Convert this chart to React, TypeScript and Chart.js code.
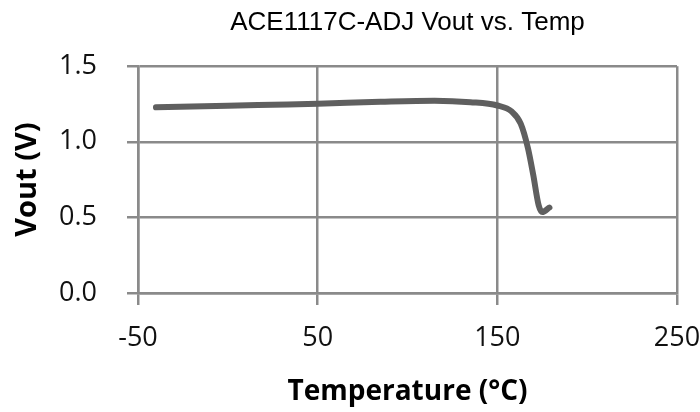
import React, { useEffect, useRef } from "react";
import { Chart, registerables } from "chart.js";

Chart.register(...registerables);

const TITLE = "ACE1117C-ADJ Vout vs. Temp";
const X_TITLE = "Temperature (°C)";
const Y_TITLE = "Vout (V)";

const temps = [-40, 0, 25, 50, 85, 115, 135, 150, 158, 163, 167, 170, 173, 175, 179];
const vout = [1.228, 1.238, 1.245, 1.252, 1.265, 1.272, 1.262, 1.24, 1.2, 1.12, 0.96, 0.78, 0.58, 0.535, 0.565];

const X_MIN = -50;
const X_MAX = 250;
const X_STEP = 100;
const Y_MIN = 0;
const Y_MAX = 1.5;
const Y_STEP = 0.5;

const GRID = "#8a8a8a";
const LINE = "#5f5f5f";

export default function App() {
  const ref = useRef<HTMLCanvasElement | null>(null);

  useEffect(() => {
    document.body.style.margin = "0";
    const canvas = ref.current;
    if (!canvas) return;
    const chart = new Chart(canvas, {
      type: "line",
      data: {
        datasets: [
          {
            data: temps.map((t, i) => ({ x: t, y: vout[i] })),
            borderColor: LINE,
            borderWidth: 6,
            pointRadius: 0,
            cubicInterpolationMode: "monotone",
            borderCapStyle: "round",
            borderJoinStyle: "round",
            fill: false,
          },
        ],
      },
      options: {
        responsive: false,
        animation: false,
        layout: { padding: { top: 0, left: 0, right: 23, bottom: 0 } },
        plugins: {
          legend: { display: false },
          tooltip: { enabled: false },
          title: {
            display: true,
            text: TITLE,
            fullSize: false,
            color: "#000",
            font: { family: "'Liberation Sans', Arial, sans-serif", size: 26, weight: "normal", lineHeight: 1.2 },
            padding: { top: 7, bottom: 28 },
          },
        },
        scales: {
          x: {
            type: "linear",
            min: X_MIN,
            max: X_MAX,
            afterFit: (s: any) => {
              s.height = 119;
              s.paddingLeft = 0;
              s.paddingRight = 0;
            },
            ticks: {
              stepSize: X_STEP,
              color: "#111",
              padding: 17,
              font: { family: "'Open Sans', sans-serif", size: 27 },
            },
            grid: { color: GRID, lineWidth: 2.5, tickLength: 12, drawTicks: true },
            border: { display: true, color: GRID, width: 2.5 },
            title: {
              display: true,
              text: X_TITLE,
              color: "#000",
              font: { family: "'Open Sans', sans-serif", size: 28, weight: "bold", lineHeight: 1.2 },
              padding: { top: 0, bottom: 3 },
            },
          },
          y: {
            type: "linear",
            min: Y_MIN,
            max: Y_MAX,
            afterFit: (s: any) => {
              s.width = 138;
              s.paddingTop = 0;
              s.paddingBottom = 0;
            },
            ticks: {
              stepSize: Y_STEP,
              color: "#111",
              padding: 30,
              font: { family: "'Open Sans', sans-serif", size: 27 },
              callback: (v: any) => Number(v).toFixed(1),
            },
            grid: { color: GRID, lineWidth: 2.5, tickLength: 11, drawTicks: true },
            border: { display: true, color: GRID, width: 2.5 },
            title: {
              display: true,
              text: Y_TITLE,
              color: "#000",
              font: { family: "'Open Sans', sans-serif", size: 29, weight: "bold", lineHeight: 1.2 },
              padding: { top: 10, bottom: 0 },
            },
          },
        },
      },
    });
    return () => chart.destroy();
  }, []);

  return <canvas ref={ref} width={700} height={412} style={{ display: "block" }} />;
}
